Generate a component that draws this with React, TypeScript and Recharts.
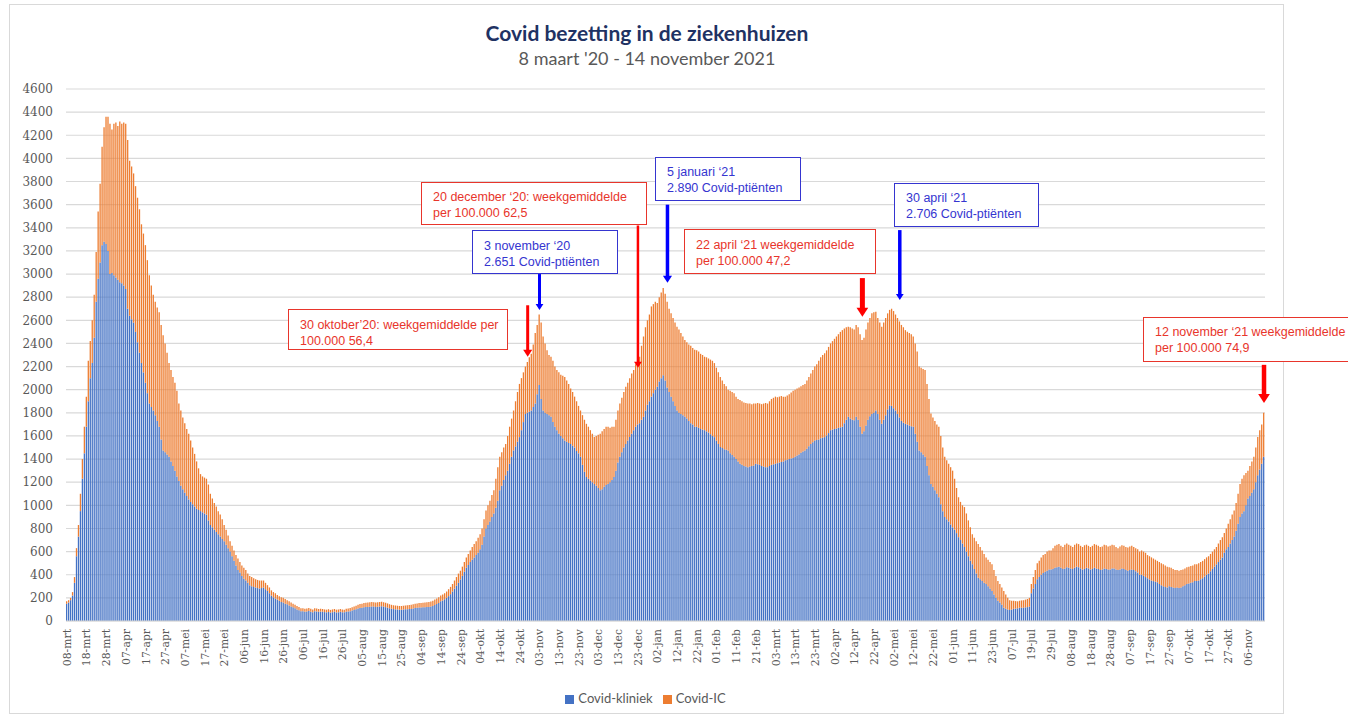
import { BarChart, Bar, XAxis, YAxis, CartesianGrid, Legend, ReferenceLine } from 'recharts';

// daily values, one row = 10 days (label interval)
const kliniek = [
  150, 160, 180, 220, 330, 560, 730, 950, 1230, 1450,
  1680, 1900, 2100, 2230, 2450, 2760, 2960, 3100, 3250, 3280,
  3260, 3200, 3000, 3010, 2990, 2970, 2950, 2930, 2920, 2900,
  2870, 2700, 2640, 2610, 2580, 2500, 2410, 2320, 2230, 2150,
  2060, 1970, 1880, 1850, 1820, 1780, 1730, 1680, 1570, 1475,
  1460, 1440, 1420, 1380, 1340, 1300, 1250, 1210, 1170, 1140,
  1110, 1080, 1050, 1030, 1010, 990, 970, 960, 950, 940,
  930, 920, 870, 830, 810, 790, 770, 750, 730, 710,
  690, 660, 630, 600, 560, 520, 480, 440, 420, 390,
  365, 350, 330, 310, 300, 295, 290, 285, 280, 285,
  290, 275, 260, 240, 220, 205, 195, 185, 175, 165,
  160, 150, 145, 135, 125, 118, 110, 100, 92, 85,
  85, 80, 82, 86, 80, 76, 84, 82, 80, 81,
  80, 77, 75, 78, 73, 76, 80, 74, 76, 79,
  76, 75, 80, 82, 85, 90, 96, 102, 108, 112,
  115, 118, 120, 122, 124, 126, 125, 122, 124, 126,
  127, 124, 120, 115, 110, 106, 103, 101, 100, 98,
  98, 100, 101, 102, 103, 104, 108, 112, 114, 116,
  116, 118, 119, 120, 122, 125, 130, 138, 146, 155,
  170, 178, 188, 200, 215, 232, 255, 280, 305, 330,
  360, 390, 425, 460, 485, 510, 530, 550, 570, 590,
  620, 660, 730, 800, 830, 860, 900, 930, 980, 1040,
  1130, 1170, 1220, 1260, 1300, 1360, 1420, 1475, 1510, 1550,
  1590, 1650, 1720, 1790, 1800, 1810, 1820, 1850, 1880, 1960,
  2040, 1920, 1820, 1800, 1790, 1780, 1765, 1720, 1680, 1650,
  1620, 1600, 1580, 1560, 1550, 1540, 1530, 1515, 1500, 1470,
  1450, 1420, 1350, 1290, 1245, 1230, 1215, 1200, 1185, 1170,
  1150, 1130, 1140, 1160, 1175, 1185, 1200, 1220, 1245, 1300,
  1370, 1420, 1460, 1500, 1530, 1560, 1590, 1620, 1650, 1680,
  1700, 1710, 1740, 1765, 1820, 1870, 1900, 1940, 1970, 2000,
  2025, 2070, 2100, 2125, 2080, 2020, 1980, 1940, 1900, 1860,
  1820, 1800, 1790, 1780, 1765, 1750, 1730, 1710, 1700, 1680,
  1680, 1670, 1660, 1655, 1650, 1640, 1630, 1615, 1600, 1590,
  1560, 1530, 1505, 1495, 1485, 1480, 1475, 1450, 1435, 1420,
  1400, 1380, 1360, 1350, 1340, 1335, 1330, 1335, 1340, 1345,
  1360, 1355, 1350, 1340, 1335, 1330, 1330, 1340, 1350, 1355,
  1360, 1365, 1370, 1375, 1380, 1390, 1395, 1400, 1405, 1410,
  1420, 1430, 1440, 1455, 1465, 1475, 1490, 1510, 1530, 1545,
  1560, 1565, 1570, 1580, 1585, 1590, 1605, 1625, 1650, 1655,
  1660, 1665, 1670, 1675, 1680, 1710, 1740, 1765, 1750, 1740,
  1735, 1765, 1740, 1680, 1620, 1640, 1690, 1740, 1770, 1790,
  1800, 1820, 1790, 1740, 1705, 1740, 1780, 1830, 1865, 1860,
  1840, 1820, 1790, 1760, 1730, 1715, 1705, 1700, 1690, 1685,
  1680, 1620, 1550, 1475, 1460, 1440, 1420, 1340, 1260, 1185,
  1160, 1130, 1100, 1070, 1010, 950, 900, 880, 860, 835,
  810, 790, 760, 725, 700, 670, 640, 600, 560, 520,
  490, 450, 410, 375, 360, 345, 330, 320, 300, 280,
  260, 230, 200, 175, 160, 140, 115, 105, 100, 95,
  100, 105, 108, 110, 115, 115, 115, 118, 120, 125,
  240, 280, 320, 360, 380, 400, 415, 425, 435, 445,
  445, 450, 460, 465, 470, 460, 450, 455, 465, 460,
  455, 450, 460, 470, 465, 455, 445, 450, 460, 455,
  445, 450, 460, 455, 450, 440, 445, 455, 450, 445,
  445, 455, 455, 445, 440, 445, 455, 450, 440, 435,
  440, 445, 440, 430, 420, 400, 400, 390, 380, 370,
  360, 350, 345, 340, 335, 320, 310, 300, 295, 290,
  300, 295, 290, 285, 290, 285, 290, 300, 310, 320,
  325, 330, 335, 345, 345, 350, 360, 370, 385, 400,
  410, 430, 450, 470, 490, 510, 530, 550, 590, 620,
  640, 670, 700, 730, 780, 840, 900, 930, 950, 1000,
  1060, 1080, 1110, 1140, 1200, 1260, 1310, 1360, 1420,
];

const ic = [
  20, 20, 20, 30, 50, 70, 100, 150, 170, 230,
  260, 350, 320, 370, 370, 430, 580, 680, 850, 990,
  1100, 1160, 1300, 1240, 1310, 1340, 1330, 1390, 1380, 1410,
  1430, 1460, 1340, 1320, 1290, 1260, 1250, 1240, 1200, 1200,
  1190, 1150, 1110, 1050, 1000, 980, 980, 990, 990, 995,
  940, 880, 810, 790, 770, 760, 740, 670, 650, 620,
  600, 580, 570, 530, 490, 455, 410, 360, 320, 310,
  310, 310, 310, 270, 250, 230, 220, 200, 190, 170,
  140, 130, 110, 90, 90, 90, 90, 100, 90, 90,
  95, 90, 80, 80, 80, 75, 70, 70, 70, 65,
  60, 55, 50, 50, 45, 45, 45, 40, 40, 40,
  40, 40, 35, 35, 35, 32, 30, 30, 28, 25,
  25, 25, 26, 26, 25, 24, 26, 26, 24, 25,
  24, 23, 23, 24, 23, 24, 24, 24, 24, 24,
  24, 23, 25, 26, 27, 28, 29, 30, 32, 34,
  35, 37, 38, 38, 38, 39, 38, 38, 38, 39,
  39, 38, 38, 37, 35, 34, 33, 33, 32, 32,
  32, 32, 33, 34, 35, 36, 37, 38, 38, 39,
  39, 40, 41, 42, 43, 43, 45, 47, 49, 50,
  50, 52, 52, 55, 60, 63, 65, 70, 75, 80,
  75, 80, 85, 90, 95, 100, 110, 115, 120, 130,
  130, 140, 150, 155, 170, 180, 190, 200, 250, 290,
  290, 290, 280, 270, 300, 320, 330, 345, 390, 430,
  460, 450, 430, 410, 440, 470, 490, 540, 610, 600,
  610, 660, 640, 600, 550, 520, 520, 530, 520, 520,
  530, 530, 540, 550, 530, 510, 480, 465, 440, 430,
  410, 400, 430, 450, 460, 450, 435, 420, 405, 430,
  460, 490, 500, 500, 505, 495, 470, 460, 435, 440,
  450, 460, 470, 480, 495, 500, 510, 520, 520, 540,
  560, 575, 640, 695, 720, 730, 750, 780, 770, 760,
  725, 730, 740, 755, 750, 740, 720, 720, 720, 720,
  725, 720, 700, 680, 665, 660, 660, 670, 660, 665,
  660, 660, 650, 645, 635, 640, 640, 645, 650, 640,
  630, 620, 605, 585, 565, 550, 525, 540, 545, 550,
  540, 540, 550, 550, 550, 550, 550, 545, 535, 535,
  520, 530, 530, 535, 545, 555, 550, 560, 570, 575,
  580, 570, 570, 570, 560, 550, 555, 560, 570, 580,
  580, 580, 580, 575, 575, 575, 590, 600, 610, 625,
  640, 655, 680, 700, 715, 725, 735, 745, 750, 765,
  780, 795, 810, 825, 835, 820, 800, 780, 790, 790,
  785, 795, 800, 800, 810, 810, 830, 840, 850, 870,
  870, 855, 830, 840, 840, 840, 840, 830, 825, 840,
  840, 830, 830, 830, 830, 825, 810, 800, 800, 795,
  780, 780, 780, 725, 730, 740, 750, 710, 660, 610,
  600, 600, 600, 610, 590, 550, 520, 510, 500, 495,
  490, 440, 390, 345, 330, 330, 345, 330, 310, 290,
  260, 270, 280, 290, 280, 265, 250, 230, 230, 230,
  230, 210, 190, 170, 160, 150, 145, 125, 100, 85,
  75, 70, 64, 60, 60, 63, 65, 67, 70, 75,
  80, 100, 120, 140, 140, 150, 155, 155, 165, 165,
  165, 180, 190, 195, 195, 190, 190, 205, 205, 200,
  195, 190, 200, 200, 200, 195, 195, 205, 200, 195,
  195, 200, 205, 205, 200, 200, 200, 205, 205, 200,
  205, 205, 200, 195, 190, 200, 200, 200, 200, 200,
  205, 205, 200, 200, 200, 200, 210, 210, 210, 200,
  200, 200, 195, 190, 185, 190, 190, 190, 185, 180,
  165, 165, 160, 155, 150, 150, 150, 145, 145, 145,
  145, 145, 145, 145, 145, 150, 150, 150, 150, 150,
  150, 150, 150, 150, 150, 160, 170, 175, 170, 180,
  200, 210, 220, 225, 240, 260, 285, 300, 310, 280,
  240, 260, 270, 280, 300, 330, 340, 340, 380,
];

const yTicks = [
  0, 200, 400, 600, 800, 1000, 1200, 1400, 1600, 1800, 2000, 2200,
  2400, 2600, 2800, 3000, 3200, 3400, 3600, 3800, 4000, 4200, 4400, 4600,
];

const monthNames = ['jan', 'feb', 'mrt', 'apr', 'mei', 'jun', 'jul', 'aug', 'sep', 'okt', 'nov', 'dec'];

// days without a report in the source sheet
const skippedDays = [
  '2021-06-12', '2021-06-13', '2021-06-26', '2021-06-27',
  '2021-07-03', '2021-07-04', '2021-07-10', '2021-07-11',
];

const legendOrder = ['Covid-kliniek', 'Covid-IC'];

const RED = '#ff0000';
const BLUE = '#0000ff';
const RED_TEXT = '#e8352b';
const BLUE_TEXT = '#3535d0';

const arrows = [
  { date: '2020-10-28', from: 2730, to: 2285, color: RED, width: 3, head: 7 },
  { date: '2020-11-03', from: 3000, to: 2690, color: BLUE, width: 3, head: 6 },
  { date: '2020-12-23', from: 3420, to: 2190, color: RED, width: 2.5, head: 6 },
  { date: '2021-01-07', from: 3600, to: 2925, color: BLUE, width: 3.5, head: 7 },
  { date: '2021-04-16', from: 2965, to: 2630, color: RED, width: 5, head: 9 },
  { date: '2021-05-05', from: 3380, to: 2775, color: BLUE, width: 3.5, head: 6 },
  { date: '2021-11-14', from: 2215, to: 1885, color: RED, width: 4.5, head: 9 },
];

const notes = [
  { lines: ['30 oktober\u201920: weekgemiddelde per', '100.000 56,4'], color: RED_TEXT, left: 288, top: 309, width: 220, height: 41, pt: 7 },
  { lines: ['20 december \u201820: weekgemiddelde', 'per 100.000 62,5'], color: RED_TEXT, left: 421, top: 182, width: 226, height: 43, pt: 6 },
  { lines: ['3 november \u201820', '2.651 Covid-pti\u00ebnten'], color: BLUE_TEXT, left: 472, top: 230, width: 146, height: 44, pt: 7 },
  { lines: ['5 januari \u201821', '2.890 Covid-pti\u00ebnten'], color: BLUE_TEXT, left: 655, top: 157, width: 146, height: 44, pt: 6 },
  { lines: ['22 april \u201821 weekgemiddelde', 'per 100.000 47,2'], color: RED_TEXT, left: 684, top: 229, width: 192, height: 45, pt: 7 },
  { lines: ['30 april \u201821', '2.706 Covid-pti\u00ebnten'], color: BLUE_TEXT, left: 894, top: 183, width: 145, height: 44, pt: 6 },
  { lines: ['12 november \u201821 weekgemiddelde', 'per 100.000 74,9'], color: RED_TEXT, left: 1143, top: 317, width: 230, height: 45, pt: 6 },
];

function buildDates(count: number): string[] {
  const out: string[] = [];
  const d = new Date(Date.UTC(2020, 2, 8));
  while (out.length < count) {
    const key = d.toISOString().slice(0, 10);
    if (!skippedDays.includes(key)) out.push(key);
    d.setUTCDate(d.getUTCDate() + 1);
  }
  return out;
}

const dates = buildDates(kliniek.length);
const data = dates.map((date, i) => ({ date, kliniek: kliniek[i], ic: ic[i] }));

function formatDate(key: string) {
  const [, m, day] = key.split('-');
  return `${day}-${monthNames[Number(m) - 1]}`;
}

function DateTick(props: any) {
  const { x, y, payload } = props;
  return (
    <text
      x={x}
      y={y}
      transform={`rotate(-90, ${x}, ${y})`}
      textAnchor="end"
      dy="0.35em"
      fontSize={10.8}
      fontFamily="DejaVu Serif"
      fill="#595959"
    >
      {formatDate(payload.value)}
    </text>
  );
}

function arrowShape(color: string, width: number, head: number) {
  return (props: any) => {
    const { x1, y1, x2, y2 } = props;
    const half = head * 0.65;
    return (
      <g>
        <line x1={x1} y1={y1} x2={x2} y2={y2 - head + 1} stroke={color} strokeWidth={width} />
        <polygon points={`${x2 - half},${y2 - head} ${x2 + half},${y2 - head} ${x2},${y2}`} fill={color} />
      </g>
    );
  };
}

export default function App() {
  return (
    <div style={{ position: 'absolute', left: 0, top: 0, width: 1348, height: 720, overflow: 'hidden', background: '#fff' }}>
      <div style={{ position: 'absolute', left: 9, top: 4, width: 1273, height: 708, border: '1px solid #d9d9d9' }} />
      <div style={{ position: 'absolute', left: 0, top: 20, width: 1294, textAlign: 'center', fontFamily: 'Lato', fontWeight: 700, fontSize: 21, lineHeight: '26px', color: '#1f3263' }}>
        Covid bezetting in de ziekenhuizen
      </div>
      <div style={{ position: 'absolute', left: 0, top: 47, width: 1294, textAlign: 'center', fontFamily: 'Lato', fontSize: 18, lineHeight: '22px', color: '#595959' }}>
        8 maart '20 - 14 november 2021
      </div>
      <div style={{ position: 'absolute', left: 0, top: 0 }}>
        <BarChart width={1290} height={720} data={data} margin={{ top: 89, right: 25, left: 12, bottom: 10 }} barCategoryGap={0}>
          <CartesianGrid vertical={false} stroke="#d9d9d9" strokeWidth={1.2} />
          <XAxis
            dataKey="date"
            interval={9}
            tick={DateTick}
            tickSize={0}
            tickMargin={8}
            tickLine={false}
            height={69}
            axisLine={{ stroke: '#d9d9d9' }}
          />
          <YAxis
            domain={[0, 4600]}
            ticks={yTicks}
            interval={0}
            width={54}
            tickSize={0}
            tickMargin={13}
            axisLine={false}
            tickLine={false}
            tick={{ fontSize: 12, fill: '#595959', fontFamily: 'DejaVu Serif' }}
          />
          <Legend
            verticalAlign="bottom"
            align="center"
            iconType="square"
            iconSize={9}
            itemSorter={(item: any) => legendOrder.indexOf(item.value)}
            wrapperStyle={{ fontFamily: 'Lato', fontSize: 13, height: 20, left: 24 }}
            formatter={(value) => <span style={{ color: '#595959' }}>{value}</span>}
          />
          <Bar dataKey="kliniek" name="Covid-kliniek" stackId="a" fill="#4472C4" barSize={1.3} isAnimationActive={false} />
          <Bar dataKey="ic" name="Covid-IC" stackId="a" fill="#ED7D31" barSize={1.3} isAnimationActive={false} />
          {arrows.map((a) => (
            <ReferenceLine
              key={a.date}
              segment={[{ x: a.date, y: a.from }, { x: a.date, y: a.to }]}
              stroke={a.color}
              shape={arrowShape(a.color, a.width, a.head)}
            />
          ))}
        </BarChart>
      </div>
      {notes.map((n, i) => (
        <div
          key={i}
          style={{
            position: 'absolute',
            left: n.left,
            top: n.top,
            width: n.width,
            height: n.height,
            boxSizing: 'border-box',
            border: `1px solid ${n.color}`,
            background: '#fff',
            color: n.color,
            fontFamily: 'Liberation Sans',
            fontSize: 12.5,
            lineHeight: '16px',
            paddingTop: n.pt,
            paddingLeft: 11,
            whiteSpace: 'nowrap',
          }}
        >
          {n.lines.map((l) => (
            <div key={l}>{l}</div>
          ))}
        </div>
      ))}
    </div>
  );
}
